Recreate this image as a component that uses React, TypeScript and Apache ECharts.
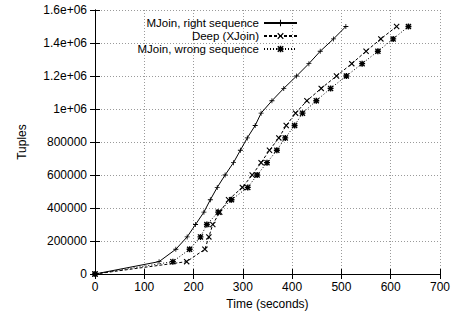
import React, { useEffect, useRef } from "react";
import * as echarts from "echarts";

const tuples = [0, 75000, 150000, 225000, 300000, 375000, 450000, 525000, 600000, 675000, 750000, 825000, 900000, 975000, 1050000, 1125000, 1200000, 1275000, 1350000, 1425000, 1500000];
const timeRight = [0, 130, 164, 187, 204, 221, 234, 248, 264, 281, 295, 309, 325, 337, 359, 383, 409, 434, 457, 484, 509];
const timeDeep = [0, 186, 223, 231, 239, 253, 271, 299, 319, 337, 354, 373, 388, 407, 430, 459, 490, 521, 550, 580, 612];
const timeWrong = [0, 158, 192, 214, 227, 250, 277, 310, 329, 349, 369, 386, 405, 421, 449, 478, 510, 542, 574, 605, 636];
const seriesNames = ["MJoin, right sequence", "Deep (XJoin)", "MJoin, wrong sequence"];
const xTitle = "Time (seconds)";
const yTitle = "Tuples";

const FONT = "'Liberation Sans', Arial, Helvetica, sans-serif";
const PLUS = "path://M4.2,0H5.8V4.2H10V5.8H5.8V10H4.2V5.8H0V4.2H4.2Z";
const CROSS = "path://M0,1.3L1.3,0L5,3.7L8.7,0L10,1.3L6.3,5L10,8.7L8.7,10L5,6.3L1.3,10L0,8.7L3.7,5Z";
const STAR = "path://M3.8,0H6.2V10H3.8Z M0,3.8H10V6.2H0Z M0,1.5L1.5,0L10,8.5L8.5,10Z M8.5,0L10,1.5L1.5,10L0,8.5Z";

function pairs(xs: number[]) {
  return xs.map((x, i) => [x, tuples[i]]);
}

export default function App() {
  const ref = useRef<HTMLDivElement>(null);
  useEffect(() => {
    if (!ref.current) return;
    const chart = echarts.init(ref.current, undefined, { renderer: "svg" });
    const tickStyle = { show: true, inside: true, length: 5, lineStyle: { color: "#000", width: 1 } };
    const axisLine = { show: true, lineStyle: { color: "#000", width: 1 } };
    const split = { show: true, lineStyle: { color: "#9a9a9a", width: 1, type: [1, 2] as any } };
    const yFmt = (v: number) => (v >= 1000000 ? `${+(v / 1000000).toFixed(1)}e+06` : `${v}`);
    chart.setOption({
      animation: false,
      backgroundColor: "#fff",
      textStyle: { fontFamily: FONT },
      grid: { left: 95, right: 12, top: 10, bottom: 42, containLabel: false },
      legend: {
        orient: "vertical",
        right: 150,
        top: 12,
        align: "right",
        itemWidth: 33,
        itemHeight: 8,
        itemGap: 1,
        textStyle: { fontFamily: FONT, fontSize: 11.5, color: "#000", lineHeight: 12 },
        data: seriesNames,
      },
      xAxis: [
        {
          type: "value",
          min: 0,
          max: 700,
          interval: 100,
          position: "bottom",
          name: xTitle,
          nameLocation: "middle",
          nameGap: 22,
          nameTextStyle: { fontFamily: FONT, fontSize: 12, color: "#000" },
          axisLine,
          axisTick: tickStyle,
          axisLabel: { color: "#000", fontFamily: FONT, fontSize: 12, margin: 7 },
          splitLine: split,
        },
        {
          type: "value",
          min: 0,
          max: 700,
          interval: 100,
          position: "top",
          axisLine,
          axisTick: tickStyle,
          axisLabel: { show: false },
          splitLine: { show: false },
        },
      ],
      yAxis: [
        {
          type: "value",
          min: 0,
          max: 1600000,
          interval: 200000,
          position: "left",
          name: yTitle,
          nameLocation: "middle",
          nameGap: 67,
          nameTextStyle: { fontFamily: FONT, fontSize: 12, color: "#000" },
          axisLine,
          axisTick: tickStyle,
          axisLabel: { color: "#000", fontFamily: FONT, fontSize: 12, margin: 8, formatter: yFmt },
          splitLine: split,
        },
        {
          type: "value",
          min: 0,
          max: 1600000,
          interval: 200000,
          position: "right",
          axisLine,
          axisTick: tickStyle,
          axisLabel: { show: false },
          splitLine: { show: false },
        },
      ],
      series: [
        {
          name: seriesNames[0],
          type: "line",
          data: pairs(timeRight),
          symbol: PLUS,
          symbolSize: 5,
          showAllSymbol: true,
          lineStyle: { color: "#000", width: 1, type: "solid" },
          itemStyle: { color: "#000" },
        },
        {
          name: seriesNames[1],
          type: "line",
          data: pairs(timeDeep),
          symbol: CROSS,
          symbolSize: 6,
          showAllSymbol: true,
          lineStyle: { color: "#000", width: 1, type: [3, 2] },
          itemStyle: { color: "#000" },
        },
        {
          name: seriesNames[2],
          type: "line",
          data: pairs(timeWrong),
          symbol: STAR,
          symbolSize: 6,
          showAllSymbol: true,
          lineStyle: { color: "#000", width: 1, type: [1, 2] },
          itemStyle: { color: "#000" },
        },
      ],
    });
    return () => chart.dispose();
  }, []);
  return <div ref={ref} style={{ position: "fixed", left: 0, top: 0, width: 453, height: 316 }} />;
}
